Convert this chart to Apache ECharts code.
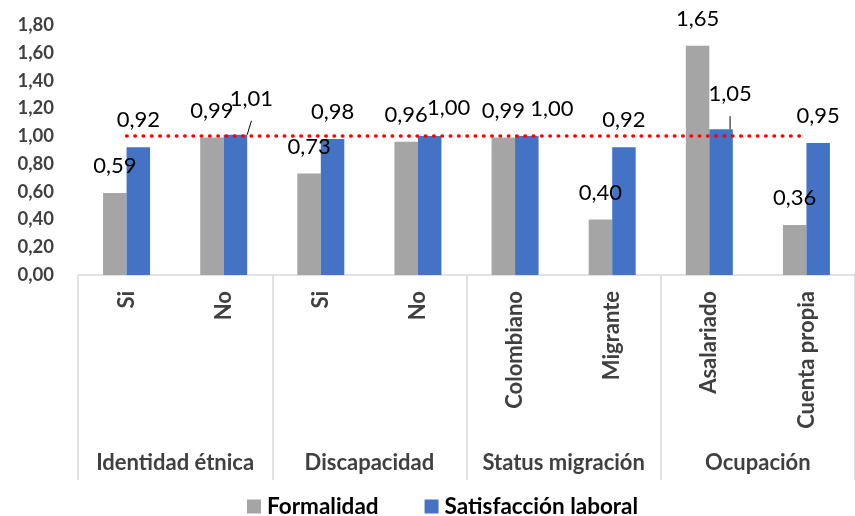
<!DOCTYPE html>
<html>
<head>
<meta charset="utf-8">
<script src="https://cdn.jsdelivr.net/npm/echarts@6/dist/echarts.min.js"></script>
<style>
  html, body { margin: 0; padding: 0; background: #fff; }
  #chart { width: 855px; height: 516px; }
</style>
</head>
<body>
<div id="chart"></div>
<script>
// Categories and groups
var categories = ['Si', 'No', 'Si', 'No', 'Colombiano', 'Migrante', 'Asalariado', 'Cuenta propia'];
var groups = ['Identidad étnica', 'Discapacidad', 'Status migración', 'Ocupación'];

// Series values
var formalidad = [0.59, 0.99, 0.73, 0.96, 0.99, 0.40, 1.65, 0.36];
var satisfaccion = [0.92, 1.01, 0.98, 1.00, 1.00, 0.92, 1.05, 0.95];
var referencia = [1, 1, 1, 1, 1, 1, 1, 1];

// Y-axis ticks
var yMin = 0, yMax = 1.8, yStep = 0.2;

var FONT = 'Lato';
function fmt(v) { return v.toFixed(2).replace('.', ','); }

// Labels nudged sideways where they would collide; some get a leader line
var satLabelShift = { 1: [16, -9], 3: [19, -1], 4: [25, 0], 6: [9, -8] };
var satLeader = { 1: true, 6: true };

var satData = satisfaccion.map(function (v, i) {
  var item = { value: v };
  if (satLabelShift[i]) item.label = { offset: satLabelShift[i] };
  if (satLeader[i]) item.labelLine = { show: true, lineStyle: { color: '#000', width: 1 } };
  return item;
});

var chart = echarts.init(document.getElementById('chart'), null, { renderer: 'canvas' });

var labelStyle = {
  show: true,
  position: 'top',
  distance: 16,
  fontFamily: FONT,
  fontSize: 22,
  color: '#000',
  formatter: function (p) { return fmt(p.value); }
};

chart.setOption({
  animation: false,
  backgroundColor: '#fff',
  grid: { left: 78, right: -3, top: 25, bottom: 241, containLabel: false },
  legend: {
    data: ['Formalidad', 'Satisfacción laboral'],
    left: 242,
    top: 490,
    padding: 5,
    itemWidth: 14,
    itemHeight: 14,
    itemGap: 46,
    icon: 'rect',
    textStyle: { fontFamily: FONT, fontSize: 22.5, fontWeight: 'bold', color: '#000', padding: [0, 0, 0, 1] }
  },
  xAxis: [
    {
      type: 'category',
      data: categories,
      axisLine: { show: true, lineStyle: { color: '#d9d9d9', width: 1.5 } },
      axisTick: { show: false },
      axisLabel: {
        rotate: 90,
        interval: 0,
        margin: 16,
        fontFamily: FONT,
        fontSize: 22,
        fontWeight: 'bold',
        color: '#404040'
      }
    },
    {
      type: 'category',
      data: groups,
      position: 'bottom',
      gridIndex: 0,
      axisLine: { show: false },
      axisTick: { show: true, length: 205, lineStyle: { color: '#d9d9d9', width: 1.5 } },
      axisLabel: {
        interval: 0,
        margin: 177,
        fontFamily: FONT,
        fontSize: 22,
        fontWeight: 'bold',
        color: '#404040'
      }
    }
  ],
  yAxis: {
    type: 'value',
    min: yMin,
    max: yMax,
    interval: yStep,
    axisLine: { show: false },
    axisTick: { show: false },
    splitLine: { show: false },
    axisLabel: {
      margin: 24,
      fontFamily: FONT,
      fontSize: 18.5,
      fontWeight: 'bold',
      color: '#404040',
      formatter: fmt
    }
  },
  series: [
    {
      name: 'Formalidad',
      type: 'bar',
      data: formalidad,
      barWidth: 23.5,
      barGap: '0%',
      itemStyle: { color: '#a5a5a5' },
      label: labelStyle
    },
    {
      name: 'Satisfacción laboral',
      type: 'bar',
      data: satData,
      barWidth: 23.5,
      barGap: '0%',
      itemStyle: { color: '#4472c4' },
      label: labelStyle
    },
    {
      name: 'Referencia',
      type: 'line',
      data: referencia,
      symbol: 'none',
      z: 5,
      silent: true,
      lineStyle: { color: '#ff0000', width: 3.5, type: [0.5, 7.8], cap: 'round' }
    }
  ]
});
</script>
</body>
</html>
